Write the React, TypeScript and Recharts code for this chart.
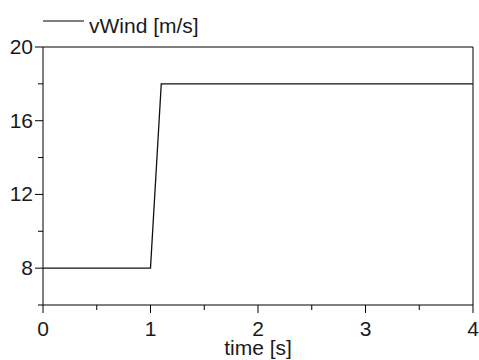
import React from 'react';
import {
  LineChart,
  Line,
  XAxis,
  YAxis,
  Legend,
  ReferenceLine,
} from 'recharts';

// wind speed step input: holds at 8 m/s, ramps to 18 m/s between 1.0 and 1.1 s
const TIME = [0, 1, 1.1, 4];
const V_WIND = [8, 8, 18, 18];

const X_TICKS = [0, 0.5, 1, 1.5, 2, 2.5, 3, 3.5, 4];
const Y_TICKS = [6, 8, 10, 12, 14, 16, 18, 20];

const SERIES_NAME = 'vWind [m/s]';
const X_LABEL = 'time [s]';

const FONT = '"Liberation Sans", Arial, sans-serif';
const FONT_SIZE = 21;
const TEXT_COLOR = '#1a1a1a';
const LINE_COLOR = '#000';
const LEGEND_HEIGHT = 40;

const data = TIME.map((t, i) => ({ t, v: V_WIND[i] }));

function XTick({ x, y, payload }: { x?: number; y?: number; payload?: { value: number } }) {
  if (x == null || y == null || !payload) return null;
  const major = Number.isInteger(payload.value);
  return (
    <g>
      <line x1={x} x2={x} y1={y} y2={y + (major ? 8 : 5)} stroke={LINE_COLOR} />
      {major && (
        <text
          x={x}
          y={y + 31}
          textAnchor="middle"
          fontFamily={FONT}
          fontSize={FONT_SIZE}
          fill={TEXT_COLOR}
        >
          {payload.value}
        </text>
      )}
    </g>
  );
}

function YTick({ x, y, payload }: { x?: number; y?: number; payload?: { value: number } }) {
  if (x == null || y == null || !payload) return null;
  const major = payload.value % 4 === 0;
  return (
    <g>
      <line x1={x - (major ? 8 : 5)} x2={x} y1={y} y2={y} stroke={LINE_COLOR} />
      {major && (
        <text
          x={x - 10}
          y={y + 7}
          textAnchor="end"
          fontFamily={FONT}
          fontSize={FONT_SIZE}
          fill={TEXT_COLOR}
        >
          {payload.value}
        </text>
      )}
    </g>
  );
}

function LegendContent() {
  return (
    <svg width={300} height={LEGEND_HEIGHT} style={{ display: 'block' }}>
      <line x1={43} x2={84} y1={21} y2={21} stroke={LINE_COLOR} strokeWidth={1.2} />
      <text x={89} y={33} fontFamily={FONT} fontSize={FONT_SIZE} fill={TEXT_COLOR}>
        {SERIES_NAME}
      </text>
    </svg>
  );
}

export default function App() {
  return (
    <div style={{ position: 'absolute', left: 0, top: 0, background: '#fff' }}>
      <LineChart
        width={479}
        height={360}
        data={data}
        margin={{ top: 47 - LEGEND_HEIGHT, right: 6, left: 0, bottom: 0 }}
      >
        <XAxis
          type="number"
          dataKey="t"
          domain={[0, 4]}
          ticks={X_TICKS}
          interval={0}
          height={55}
          tickSize={0}
          tickMargin={0}
          tickLine={false}
          axisLine={{ stroke: LINE_COLOR }}
          tick={<XTick />}
          label={{
            content: ({ viewBox }: any) => (
              <text
                x={viewBox.x + viewBox.width / 2}
                y={viewBox.y + 50}
                textAnchor="middle"
                fontFamily={FONT}
                fontSize={FONT_SIZE}
                fill={TEXT_COLOR}
              >
                {X_LABEL}
              </text>
            ),
          }}
        />
        <YAxis
          type="number"
          domain={[6, 20]}
          ticks={Y_TICKS}
          interval={0}
          width={43}
          tickSize={0}
          tickMargin={0}
          tickLine={false}
          axisLine={{ stroke: LINE_COLOR }}
          tick={<YTick />}
        />
        {/* frame: top and right edges of the plot box */}
        <ReferenceLine y={20} stroke={LINE_COLOR} />
        <ReferenceLine x={4} stroke={LINE_COLOR} />
        <Legend
          verticalAlign="top"
          align="left"
          content={<LegendContent />}
          wrapperStyle={{ left: 0, top: 0, width: 300, height: LEGEND_HEIGHT }}
        />
        <Line
          type="linear"
          dataKey="v"
          name={SERIES_NAME}
          stroke="#111"
          strokeWidth={1.3}
          dot={false}
          isAnimationActive={false}
        />
      </LineChart>
    </div>
  );
}
